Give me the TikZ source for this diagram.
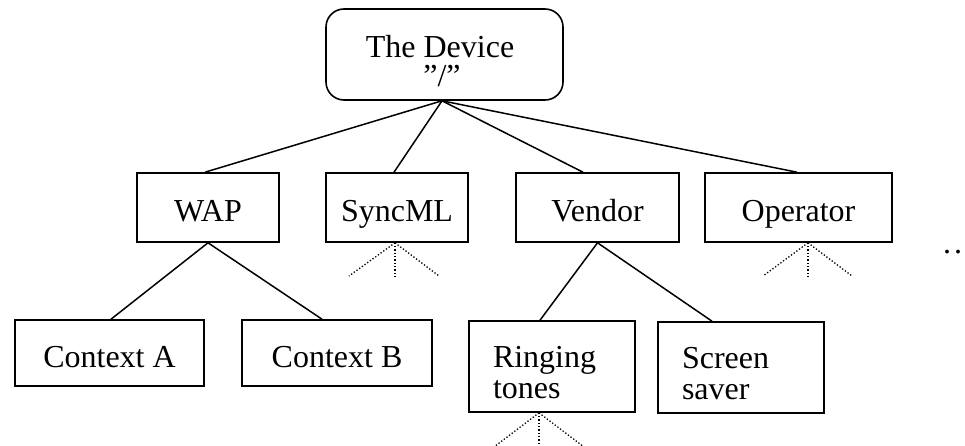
\documentclass[tikz,border=0pt]{standalone}
\usepackage{fontspec}
\setmainfont{Liberation Serif}
\begin{document}
\begin{tikzpicture}[x=1pt,y=-1pt,
  every node/.style={font=\fontsize{32}{31}\selectfont, inner sep=0pt},
  box/.style={draw, line width=1.6pt, minimum height=69pt, text height=28pt, text depth=0pt},
  twobox/.style={draw, line width=1.6pt, minimum height=91pt, inner xsep=24pt, text width=118pt, align=left, text height=32pt, text depth=31pt},
  edge/.style={line width=1.5pt},
  fan/.style={line width=1.3pt, dash pattern=on 1.3pt off 2pt}]
\useasboundingbox[fill=white] (0,0) rectangle (965,446);

% root
\node[draw, line width=1.6pt, rounded corners=18pt, minimum width=237pt, minimum height=91pt] (root) at (444.5,54.5) {};
\node[anchor=base] (rootA) at (440,58) {The Device};
\node[anchor=base] (rootB) at (442,87) {”/”};

% level 1
\node[box, minimum width=142pt] (wap) at (208,207.5) {WAP};
\node[box, minimum width=142pt] (syncml) at (397,207.5) {SyncML};
\node[box, minimum width=163pt] (vendor) at (597.5,207.5) {Vendor};
\node[box, minimum width=187pt] (operator) at (798.5,207.5) {Operator};

% level 2
\node[box, minimum width=189pt, minimum height=66pt] (ctxa) at (109.5,353) {Context A};
\node[box, minimum width=190pt, minimum height=66pt] (ctxb) at (337,353) {Context B};
\node[twobox] (ring) at (552,366.5) {Ringing\\tones};
\node[twobox] (screen) at (741,367.5) {Screen\\saver};

% trailing dots at the right edge
\node[anchor=base west] (more) at (943,253) {.\kern3pt.};

% solid connectors
\draw[edge] ([xshift=-2.5pt]root.south) -- ([xshift=-3pt]wap.north);
\draw[edge] ([xshift=-2.5pt]root.south) -- ([xshift=-3pt]syncml.north);
\draw[edge] ([xshift=-2.5pt]root.south) -- ([xshift=-14.5pt]vendor.north);
\draw[edge] ([xshift=-2.5pt]root.south) -- ([xshift=-1.5pt]operator.north);
\draw[edge] (wap.south) -- ([xshift=1.5pt]ctxa.north);
\draw[edge] (wap.south) -- ([xshift=-15pt]ctxb.north);
\draw[edge] (vendor.south) -- ([xshift=-12pt]ring.north);
\draw[edge] (vendor.south) -- ([xshift=-29pt]screen.north);

% dotted fans
\coordinate (s1) at (349,276); \coordinate (s2) at (395,276); \coordinate (s3) at (439,276);
\coordinate (o1) at (763,276); \coordinate (o2) at (808,276); \coordinate (o3) at (852,276);
\coordinate (r1) at (494,447); \coordinate (r2) at (539,447); \coordinate (r3) at (584,447);
\foreach \e in {s1,s2,s3} \draw[fan] ([xshift=-2pt]syncml.south) -- (\e);
\foreach \e in {o1,o2,o3} \draw[fan] ([xshift=9.5pt]operator.south) -- (\e);
\foreach \e in {r1,r2,r3} \draw[fan] ([xshift=-13pt]ring.south) -- (\e);
\end{tikzpicture}
\end{document}
